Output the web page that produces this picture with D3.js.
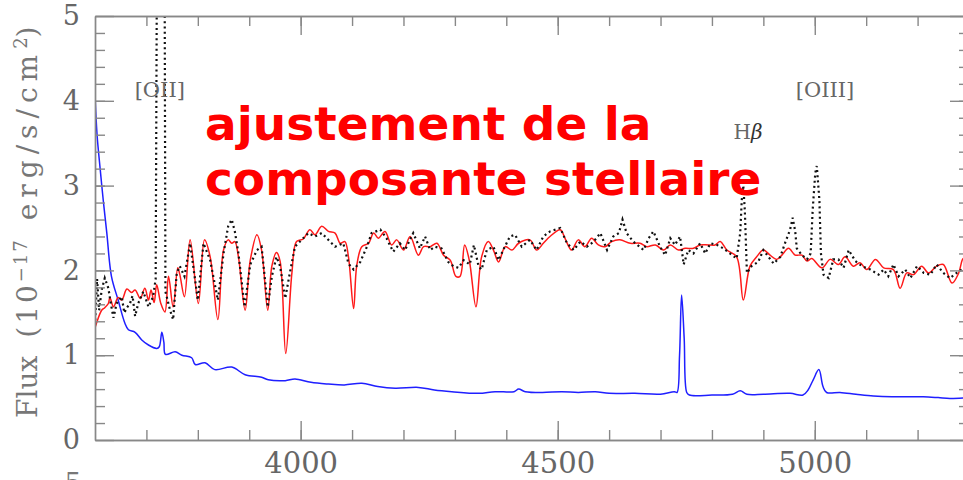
<!DOCTYPE html>
<html>
<head>
<meta charset="utf-8">
<script src="https://cdn.jsdelivr.net/npm/d3@7"></script>
<style>
  body { margin: 0; background: #fff; }
  svg { display: block; }
  .axis path, .axis line { stroke: #888; stroke-width: 1.4; }
  .axis text { fill: #666; font-family: "DejaVu Serif", serif; }
</style>
</head>
<body>
<svg id="chart" width="963" height="480"></svg>
<script>
// observed spectrum (dotted black)
const obsWave = [3600,3604,3608,3613,3619,3626,3631,3636,3642,3652,3657,3662,3668,3673,3678,3684,3694,3704,3713,3718,3721,3726,3731,3735,3737,3746,3752,3759,3765,3774,3785,3800,3811,3824,3839,3850,3859,3866,3872,3879,3891,3902,3915,3924,3936,3944,3953,3960,3970,3979,3989,4005,4015,4028,4041,4057,4067,4083,4093,4103,4116,4129,4138,4155,4167,4180,4193,4203,4219,4232,4242,4252,4261,4274,4287,4297,4307,4317,4329,4337,4346,4352,4362,4375,4385,4394,4407,4417,4430,4446,4459,4472,4485,4505,4518,4531,4544,4557,4570,4583,4596,4608,4619,4626,4634,4647,4667,4677,4686,4699,4709,4719,4728,4738,4745,4754,4764,4777,4787,4797,4810,4822,4835,4848,4855,4858,4861,4864,4868,4877,4890,4900,4910,4920,4933,4942,4952,4957,4962,4965,4975,4985,4992,4996,5001,5004,5009,5012,5017,5027,5036,5046,5056,5066,5079,5092,5108,5124,5134,5143,5153,5163,5176,5186,5199,5212,5225,5237,5250,5263,5276,5286,5300];
const obsFlux = [1.35,1.90,1.53,1.77,1.91,1.79,1.60,1.44,1.61,1.69,1.50,1.56,1.61,1.70,1.46,1.61,1.75,1.57,1.69,1.90,6.5,6.5,6.5,6.5,1.75,1.53,1.42,1.97,2.05,1.93,2.32,1.65,2.32,2.12,1.65,2.20,2.52,2.60,2.46,2.20,1.57,2.07,2.24,2.28,1.57,1.93,2.16,2.05,1.67,1.97,2.28,2.38,2.44,2.40,2.44,2.34,2.28,2.32,2.08,2.01,2.10,2.28,2.44,2.48,2.38,2.22,2.32,2.24,2.44,2.26,2.40,2.24,2.28,2.26,2.10,2.05,2.03,2.12,2.07,2.30,2.05,2.01,2.24,2.28,2.12,2.24,2.40,2.42,2.28,2.36,2.24,2.40,2.46,2.50,2.32,2.24,2.34,2.28,2.34,2.44,2.24,2.40,2.44,2.60,2.44,2.34,2.24,2.38,2.46,2.28,2.18,2.38,2.30,2.40,2.07,2.24,2.20,2.32,2.20,2.32,2.30,2.26,2.20,2.14,2.44,2.83,3.00,2.70,1.97,2.05,2.10,2.24,2.16,2.08,2.16,2.32,2.48,2.62,2.46,2.26,2.18,2.13,2.20,2.72,3.15,3.23,2.83,2.20,1.95,1.91,2.13,2.13,2.03,2.24,2.11,2.05,2.01,1.95,2.01,1.93,2.07,1.93,2.01,1.91,2.05,1.97,1.95,2.07,1.97,1.91,1.97,2.01,2.00];

// stellar fit (red)
const fitWave = [3600,3603,3613,3619,3626,3629,3636,3645,3652,3662,3671,3678,3688,3697,3704,3709,3715,3720,3728,3736,3743,3752,3761,3765,3774,3785,3801,3813,3824,3839,3850,3859,3866,3872,3879,3892,3902,3915,3924,3936,3944,3953,3960,3971,3983,3992,4005,4018,4028,4041,4054,4067,4077,4086,4093,4103,4109,4119,4132,4142,4151,4164,4177,4187,4200,4213,4229,4239,4252,4265,4278,4291,4302,4310,4319,4328,4341,4352,4365,4375,4385,4398,4411,4424,4446,4459,4472,4485,4505,4514,4527,4540,4553,4566,4579,4592,4605,4621,4641,4660,4673,4690,4706,4719,4735,4748,4764,4777,4793,4806,4816,4829,4848,4861,4874,4887,4900,4913,4926,4936,4949,4962,4975,4985,4994,5014,5030,5046,5059,5075,5088,5101,5118,5134,5153,5166,5179,5192,5208,5221,5237,5250,5267,5280,5289,5300];
const fitFlux = [1.32,1.38,1.53,1.56,1.61,1.68,1.57,1.68,1.65,1.78,1.74,1.77,1.67,1.79,1.65,1.77,1.62,1.83,1.61,1.51,1.93,1.57,2.03,1.95,1.69,2.36,1.61,2.36,2.16,1.42,2.24,2.36,2.32,2.34,2.16,1.53,2.12,2.42,2.24,1.53,2.05,2.21,2.11,1.02,1.97,2.34,2.37,2.48,2.42,2.52,2.46,2.44,2.32,2.34,2.16,1.55,2.05,2.28,2.32,2.44,2.38,2.46,2.30,2.36,2.24,2.40,2.18,2.28,2.28,2.32,2.18,2.12,1.93,1.93,2.30,2.12,1.57,2.16,2.34,2.24,2.10,2.28,2.24,2.32,2.36,2.24,2.32,2.40,2.48,2.38,2.24,2.36,2.28,2.38,2.30,2.28,2.34,2.36,2.32,2.32,2.28,2.30,2.24,2.30,2.24,2.26,2.26,2.30,2.30,2.30,2.34,2.24,2.16,1.65,2.05,2.16,2.24,2.18,2.13,2.18,2.26,2.18,2.18,2.11,2.14,2.03,2.13,2.07,2.16,2.05,2.09,2.01,2.13,2.03,2.01,1.79,1.97,1.95,2.05,1.97,2.05,2.07,1.85,1.97,2.14,2.08];

// blue component
const blueWave = [3600,3604,3610,3616,3623,3632,3645,3658,3665,3678,3691,3704,3720,3725,3730,3734,3737,3756,3769,3788,3795,3814,3833,3866,3892,3924,3937,3970,3989,4020,4054,4085,4119,4150,4184,4229,4260,4294,4346,4378,4415,4424,4437,4470,4508,4540,4573,4600,4650,4700,4727,4732,4737,4741,4746,4751,4756,4800,4840,4855,4868,4900,4952,4977,4987,4997,5008,5016,5023,5049,5080,5114,5150,5179,5211,5240,5263,5300];
const blueFlux = [4.07,3.60,3.20,2.83,2.44,1.93,1.65,1.38,1.30,1.27,1.18,1.12,1.08,1.10,1.27,1.15,1.01,1.04,1.00,0.97,0.89,0.91,0.83,0.86,0.77,0.74,0.71,0.70,0.72,0.68,0.66,0.65,0.67,0.63,0.61,0.62,0.59,0.57,0.55,0.57,0.57,0.60,0.57,0.56,0.57,0.56,0.57,0.55,0.55,0.54,0.57,0.56,1.00,1.71,1.20,0.56,0.53,0.53,0.54,0.58,0.54,0.54,0.55,0.53,0.59,0.71,0.83,0.63,0.56,0.56,0.54,0.52,0.51,0.51,0.51,0.50,0.49,0.50];

const xMajor = [4000, 4500, 5000];
const xMinor = d3.range(3700, 5300, 100);
const yMajor = [0, 1, 2, 3, 4, 5];
const yMinor = d3.range(0.2, 5, 0.2);

const lineLabels = [
    { text: '[OII]', wave: 3726, flux: 4.05 },
    { text: '[OIII]', wave: 5020, flux: 4.05 }
];

const svg = d3.select('#chart');
const margin = { left: 95, right: 963 + 6, top: 16, bottom: 440 };

const x = d3.scaleLinear().domain([3600, 5300]).range([margin.left, margin.right]);
const y = d3.scaleLinear().domain([0, 5]).range([margin.bottom, margin.top]);

svg.append('clipPath').attr('id', 'plotClip')
    .append('rect')
    .attr('x', margin.left).attr('y', margin.top)
    .attr('width', margin.right - margin.left).attr('height', margin.bottom - margin.top);

const plot = svg.append('g').attr('clip-path', 'url(#plotClip)');

const toPoints = (waves, fluxes) => waves.map((w, i) => [w, fluxes[i]]);

const smoothLine = d3.line().x(d => x(d[0])).y(d => y(d[1])).curve(d3.curveCatmullRom.alpha(0.5));
const rawLine = d3.line().x(d => x(d[0])).y(d => y(d[1]));

plot.append('path')
    .datum(toPoints(blueWave, blueFlux))
    .attr('d', smoothLine)
    .attr('fill', 'none').attr('stroke', '#1f1fff').attr('stroke-width', 1.5);

plot.append('path')
    .datum(toPoints(fitWave, fitFlux))
    .attr('d', smoothLine)
    .attr('fill', 'none').attr('stroke', '#ff1a1a').attr('stroke-width', 1.5);

plot.append('path')
    .datum(toPoints(obsWave, obsFlux))
    .attr('d', rawLine)
    .attr('fill', 'none').attr('stroke', '#111').attr('stroke-width', 2.2)
    .attr('stroke-dasharray', '2,3.2');

// axes, ticks point inwards
const addAxis = (axis, tx, ty, size, values, labels) => {
    const g = svg.append('g').attr('class', 'axis')
        .attr('transform', `translate(${tx},${ty})`)
        .call(axis.tickValues(values).tickSizeInner(-size).tickSizeOuter(0)
            .tickFormat(labels ? d3.format('d') : ''));
    return g;
};

addAxis(d3.axisBottom(x).tickPadding(12), 0, margin.bottom, 10, xMinor, false);
addAxis(d3.axisBottom(x).tickPadding(12), 0, margin.bottom, 19, xMajor, true)
    .selectAll('text').style('font-size', '29px');
addAxis(d3.axisTop(x), 0, margin.top, 10, xMinor, false);
addAxis(d3.axisTop(x), 0, margin.top, 19, xMajor, false);
addAxis(d3.axisLeft(y).tickPadding(15), margin.left, 0, 10, yMinor, false);
addAxis(d3.axisLeft(y).tickPadding(15), margin.left, 0, 19, yMajor, true)
    .selectAll('text').style('font-size', '27px');
addAxis(d3.axisRight(y), margin.right, 0, 10, yMinor, false);
addAxis(d3.axisRight(y), margin.right, 0, 19, yMajor, false);

// y axis title, spaced like the original
const yTitle = svg.append('text')
    .attr('transform', 'translate(37,418) rotate(-90)')
    .style('font-family', '"DejaVu Serif", serif')
    .style('font-size', '28px')
    .style('fill', '#777');
yTitle.append('tspan').text('Flux');
yTitle.append('tspan').attr('dx', 18).style('letter-spacing', '3px').text('(10');
yTitle.append('tspan').attr('dy', -10).style('font-size', '18px').style('letter-spacing', '2px').text('−17');
yTitle.append('tspan').attr('dy', 10).attr('dx', 18).style('letter-spacing', '6px').text('erg/s/cm');
yTitle.append('tspan').attr('dy', -10).style('font-size', '18px').text('2');
yTitle.append('tspan').attr('dy', 10).text(')');

// fragment of a label from below the frame
svg.append('text').attr('x', 73).attr('y', 493).attr('text-anchor', 'middle')
    .style('font-family', '"DejaVu Serif", serif').style('font-size', '27px').style('fill', '#777')
    .text('5');

// emission line labels
svg.selectAll('.lineLabel').data(lineLabels).enter().append('text')
    .attr('class', 'lineLabel')
    .attr('x', d => x(d.wave)).attr('y', d => y(d.flux))
    .attr('text-anchor', 'middle')
    .style('font-family', '"DejaVu Serif", serif').style('font-size', '21px').style('fill', '#666')
    .text(d => d.text);

const hb = svg.append('text').attr('x', x(4842)).attr('y', y(3.55))
    .style('font-family', '"DejaVu Serif", serif').style('font-size', '20px').style('fill', '#666');
hb.append('tspan').text('H');
hb.append('tspan').style('font-style', 'italic').style('fill', '#333').text('β');

// title overlay
const title = svg.append('text')
    .style('font-family', '"DejaVu Sans", sans-serif').style('font-weight', 'bold')
    .style('font-size', '47px').style('fill', '#ff0000');
title.append('tspan').attr('x', 205).attr('y', 140).text('ajustement de la');
title.append('tspan').attr('x', 205).attr('y', 195).text('composante stellaire');
</script>
</body>
</html>
